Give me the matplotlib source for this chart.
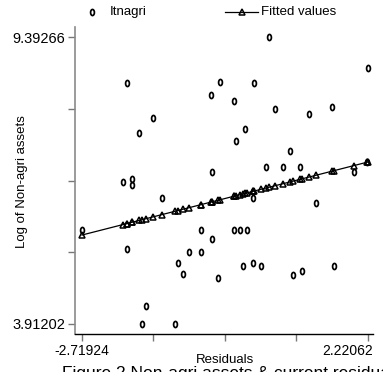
import numpy as np
import matplotlib
matplotlib.use("Agg")
import matplotlib.pyplot as plt
import matplotlib.transforms as mtransforms
from matplotlib.path import Path
from matplotlib.lines import Line2D

plt.rcParams['font.family'] = ['Liberation Sans', 'DejaVu Sans']

# residuals (x) and log of non-agri assets (y)
resid = [0.511, 2.22062, -1.942, -0.336, 0.252, -0.491, -0.094, 0.614, 1.202, 1.599,
         -1.493, 0.096, -1.735, -0.059, 0.874, -0.474, 0.459, 0.753, 1.046, -2.011,
         -1.856, -1.856, -1.337, 0.235, 1.323, 1.979, 2.203, -2.71924, -0.664, -0.094,
         0.010, 0.131, -0.474, -1.942, -0.871, -0.664, -1.061, -0.975, -0.370, 0.062,
         0.235, 0.372, 0.925, 1.080, 1.633, -1.614, -1.683, -1.113]
lnagri = [9.39266, 8.801, 8.514, 8.533, 8.514, 8.285, 8.170, 8.018, 7.922, 8.056,
          7.846, 7.636, 7.559, 7.407, 7.216, 6.815, 6.910, 6.910, 6.910, 6.624,
          6.681, 6.567, 6.318, 6.318, 6.223, 6.815, 7.006, 5.707, 5.707, 5.707,
          5.707, 5.707, 5.535, 5.344, 5.287, 5.287, 5.077, 4.867, 4.790, 5.020,
          5.077, 5.020, 4.848, 4.924, 5.020, 4.256, 3.91202, 3.91202]

# regression line
fit_intercept = 6.379
fit_slope = 0.2824

x_ticks = [-2.71924, 2.22062]
y_ticks = [3.91202, 9.39266]

x = np.array(resid)
y = np.array(lnagri)
xs = np.sort(x)
fitted = fit_intercept + fit_slope * xs

# tall hollow "o" like stata
circ = Path.unit_circle()
oh = Path(circ.vertices * [0.62, 1.0], circ.codes)

fig = plt.figure(figsize=(3.83, 3.72), dpi=100)
ax = fig.add_axes([75/383, 38/372, 298/383, 307/372])

ax.plot(x, y, linestyle='none', marker=oh, markersize=4.4, mfc='none',
        mec='black', mew=1.25)
ax.plot(xs, fitted, color='black', lw=0.9, marker='^', markersize=4,
        mfc='none', mec='black', mew=1.1)

ax.set_xlim(-2.840, 2.307)
ax.set_ylim(3.721, 9.584)

ax.set_xticks(np.linspace(x_ticks[0], x_ticks[1], 5))
ax.set_xticklabels([f"{x_ticks[0]:.5f}", "", "", "", f"{x_ticks[1]:.5f}"])
ax.set_yticks(np.linspace(y_ticks[0], y_ticks[1], 5))
ax.set_yticklabels([f"{y_ticks[0]:.5f}", "", "", "", f"{y_ticks[1]:.5f}"])

for s in ['top', 'right']:
    ax.spines[s].set_visible(False)
ax.spines['left'].set_color('#8a8a8a')
ax.spines['left'].set_linewidth(1.2)
ax.spines['bottom'].set_color('black')
ax.spines['bottom'].set_linewidth(1.0)
ax.tick_params(axis='y', length=5, width=1, color='#777777', labelsize=10.5, pad=2)
ax.tick_params(axis='x', length=5, width=1, color='#777777', labelsize=10, pad=2)

# right x label is pulled in so it stays inside the figure
last = ax.get_xticklabels()[-1]
last.set_ha('right')
last.set_transform(last.get_transform() +
                   mtransforms.ScaledTranslation(5/100, 0, fig.dpi_scale_trans))

fig.text(225/383, 1 - 360/372, "Residuals", ha='center', va='center', fontsize=9.5)
fig.text(22/383, 1 - 182/372, "Log of Non-agri assets", ha='center', va='center',
         rotation=90, fontsize=9.5)

# legend at the top
ly = 1 - 12/372
fig.add_artist(Line2D([92/383], [ly], marker=oh, markersize=4.4, mfc='none',
                      mec='black', mew=1.25, linestyle='none'))
fig.text(110/383, ly, "Itnagri", va='center', fontsize=9.5)
fig.add_artist(Line2D([225/383, 258/383], [ly, ly], color='black', lw=0.9))
fig.add_artist(Line2D([242/383], [ly], marker='^', markersize=4, mfc='none',
                      mec='black', mew=1.1, linestyle='none'))
fig.text(261/383, ly, "Fitted values", va='center', fontsize=9.5)

# caption, cut off at the bottom edge as in the source
fig.text(62/383, 1 - 366/372, "Figure 2 Non-agri assets & current residuals",
         va='top', fontsize=12.5)

fig.savefig("out.png", dpi=100)
